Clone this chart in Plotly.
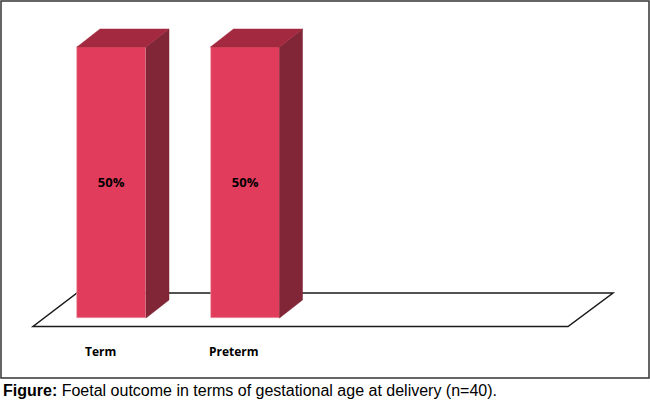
import plotly.graph_objects as go

categories = ["Term", "Preterm"]
values = [50, 50]          # percent of deliveries (n=40)
value_labels = ["50%", "50%"]
caption_bold = "Figure:"
caption_text = "Foetal outcome in terms of gestational age at delivery (n=40)."

W, H = 650, 404
FRONT = "#E13C5B"
TOP = "#A2293F"
SIDE = "#812637"

# axis geometry (styling)
x_ppu = 133.5
x0_px = 111.5
y_ppu = 5.42
y0_px = 318.0
bar_w = 69 / x_ppu
dx = 23 / x_ppu
dy = 18 / y_ppu
label_shift = 11.5 / x_ppu

xr = [-x0_px / x_ppu, (W - x0_px) / x_ppu]
yr = [-(H - y0_px) / y_ppu, y0_px / y_ppu]

fig = go.Figure()
xs = list(range(len(categories)))

# 3D faces
for i, v in zip(xs, values):
    l, r = i - bar_w / 2, i + bar_w / 2
    fig.add_trace(go.Scatter(
        x=[r, r + dx, r + dx, r, r], y=[0, dy, v + dy, v, 0],
        fill="toself", fillcolor=SIDE, mode="lines",
        line=dict(color=SIDE, width=0.5), hoverinfo="skip", showlegend=False))
    fig.add_trace(go.Scatter(
        x=[l, l + dx, r + dx, r, l], y=[v, v + dy, v + dy, v, v],
        fill="toself", fillcolor=TOP, mode="lines",
        line=dict(color=TOP, width=0.5), hoverinfo="skip", showlegend=False))

fig.add_trace(go.Bar(
    x=xs, y=values, width=bar_w, marker=dict(color=FRONT, line=dict(color="#E8A0AE", width=0.6)),
    text=["<b>%s</b>" % t for t in value_labels], textposition="inside",
    insidetextanchor="middle", textangle=0,
    textfont=dict(family="Open Sans, Arial", size=13, color="black"),
    showlegend=False, hoverinfo="skip"))

# category labels
for i, c in zip(xs, categories):
    fig.add_annotation(x=i - label_shift, y=-(351 - y0_px) / y_ppu, text="<b>%s</b>" % c,
                       showarrow=False, xanchor="center", yanchor="middle",
                       font=dict(family="Open Sans, Arial", size=12, color="black"))

def px(x, y):
    return x / W, 1 - y / H

# floor parallelogram
pts = [px(33, 326.5), px(568, 326.5), px(613, 293), px(77, 293)]
path = "M %f %f L %f %f L %f %f L %f %f Z" % tuple(c for p in pts for c in p)
fig.add_shape(type="path", path=path, xref="paper", yref="paper",
              line=dict(color="#1a1a1a", width=1.5), layer="below")

# outer border
fig.add_shape(type="rect", xref="paper", yref="paper",
              x0=1 / W, x1=649 / W, y0=1 - 378 / H, y1=1 - 1 / H,
              line=dict(color="#333333", width=1.5), layer="below")

fig.add_annotation(x=1 / W, y=1 - 390 / H, xref="paper", yref="paper",
                   text="<b>%s</b> %s" % (caption_bold, caption_text),
                   showarrow=False, xanchor="left", yanchor="middle",
                   bgcolor="white", borderpad=1,
                   font=dict(family="Liberation Sans, Arial", size=16, color="black"))

fig.update_layout(
    width=W, height=H, margin=dict(l=0, r=0, t=0, b=0),
    paper_bgcolor="white", plot_bgcolor="rgba(0,0,0,0)",
    xaxis=dict(range=xr, visible=False, fixedrange=True),
    yaxis=dict(range=yr, visible=False, fixedrange=True),
    bargap=0,
)

fig.write_html("out.html", config={"displayModeBar": False},
               post_script="document.body.style.margin='0';document.body.style.overflow='hidden';")
